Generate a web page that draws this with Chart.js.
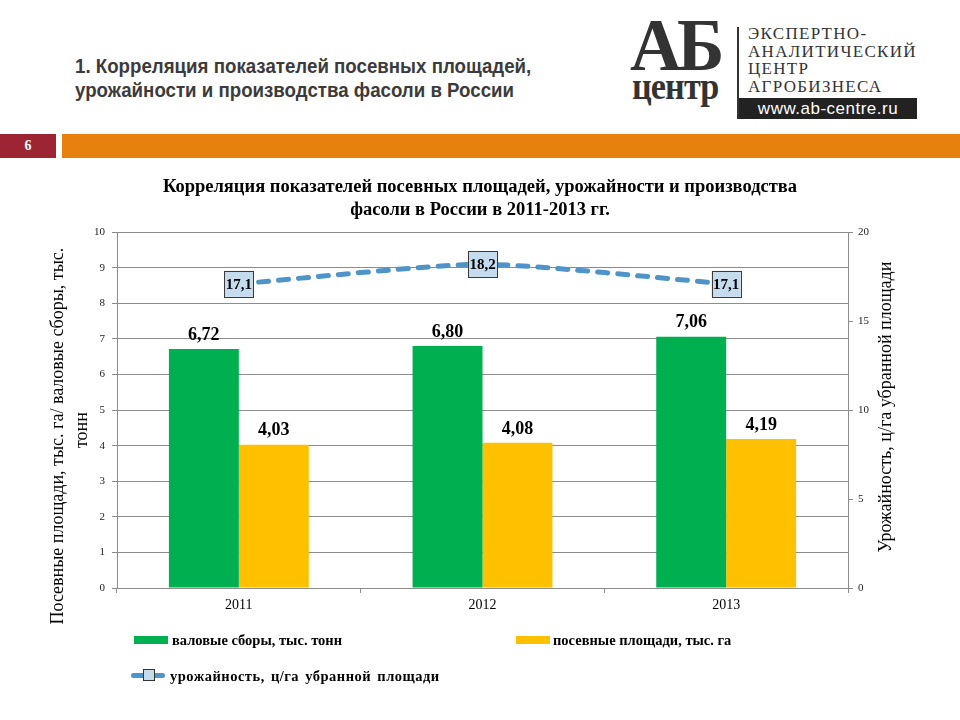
<!DOCTYPE html>
<html lang="ru">
<head>
<meta charset="utf-8">
<title>Фасоль в России</title>
<script src="https://cdn.jsdelivr.net/npm/chart.js@4/dist/chart.umd.min.js"></script>
<style>
    body { margin: 0; width: 960px; height: 720px; background: #fff; position: relative; overflow: hidden; font-family: "Liberation Serif", serif; }
    .head-title { position: absolute; left: 75px; top: 54px; font-family: "Liberation Sans Narrow", "Liberation Sans", Arial, sans-serif; font-weight: bold; font-size: 21px; line-height: 24px; color: #3b3b3b; transform: scaleX(0.89); transform-origin: left top; white-space: nowrap; }
    .logo-ab { position: absolute; left: 630px; top: 8px; font: bold 74px/74px "Liberation Serif", serif; color: #333; letter-spacing: -5px; transform: scaleX(0.97); transform-origin: left top; }
    .logo-centr { position: absolute; left: 632px; top: 67px; font: bold 38px/38px "Liberation Serif", serif; color: #333; letter-spacing: -1px; transform: scaleX(0.9); transform-origin: left top; }
    .logo-bar { position: absolute; left: 737px; top: 27px; width: 2px; height: 92px; background: #333; }
    .logo-text { position: absolute; left: 748px; top: 25px; font: 17px/17.5px "Liberation Serif", serif; color: #333; letter-spacing: 1.3px; }
    .logo-url { position: absolute; left: 739px; top: 98px; width: 178px; height: 21px; background: #222; color: #fff; font: 17px/21px "Liberation Sans Narrow", "Liberation Sans", sans-serif; text-align: center; letter-spacing: 0.5px; }
    .page-num { position: absolute; left: 0; top: 134px; width: 56px; height: 24px; background: #9d2533; color: #fff; font: bold 14px/24px "Liberation Serif", serif; text-align: center; }
    .orange { position: absolute; left: 62px; top: 134px; right: 0; height: 24px; background: #e8800e; }
    #chartWrap { position: absolute; left: 0; top: 170px; width: 960px; height: 550px; }
    .legend-item { position: absolute; font: bold 14.5px/16px "Liberation Serif", serif; color: #000; white-space: nowrap; }
    .sw { position: absolute; }
</style>
</head>
<body>
<div class="head-title">1. Корреляция показателей посевных площадей,<br>урожайности и производства фасоли в России</div>
<div class="logo-ab">АБ</div>
<div class="logo-centr">центр</div>
<div class="logo-bar"></div>
<div class="logo-text">ЭКСПЕРТНО-<br>АНАЛИТИЧЕСКИЙ<br>ЦЕНТР<br>АГРОБИЗНЕСА</div>
<div class="logo-url">www.ab-centre.ru</div>
<div class="page-num">6</div>
<div class="orange"></div>

<div id="chartWrap"><canvas id="chart" width="960" height="550"></canvas></div>

<div class="sw" style="left:134px; top:636px; width:34px; height:8px; background:#00b050;"></div>
<div class="legend-item" style="left:172px; top:632px;">валовые сборы, тыс. тонн</div>
<div class="sw" style="left:516px; top:636px; width:34px; height:8px; background:#ffc000;"></div>
<div class="legend-item" style="left:553px; top:632px;">посевные площади, тыс. га</div>
<div class="sw" style="left:131px; top:673px; width:34px; height:5px; border-radius:3px; background:#4f94c8;"></div>
<div class="sw" style="left:143px; top:669px; width:10px; height:10px; background:#c5dcef; border:1px solid #333;"></div>
<div class="legend-item" style="left:170px; top:668px; letter-spacing:0.5px; word-spacing:2px;">урожайность, ц/га убранной площади</div>

<script>
// Данные графика
const years = ['2011', '2012', '2013'];
const grossHarvest = [6.72, 6.80, 7.06];   // валовые сборы, тыс. тонн
const sownArea = [4.03, 4.08, 4.19];       // посевные площади, тыс. га
const yieldValues = [17.1, 18.2, 17.1];    // урожайность, ц/га

const GREEN = '#00b050';
const YELLOW = '#ffc000';
const BLUE = '#4f94c8';
const GRID = '#8c8c8c';

function fmt(v, digits) {
    return v.toFixed(digits).replace('.', ',');
}

// Подписи значений над столбцами и в рамках на линии
const valueLabels = {
    id: 'valueLabels',
    afterDatasetsDraw(chart) {
        const ctx = chart.ctx;
        ctx.save();
        chart.data.datasets.forEach((ds, i) => {
            const meta = chart.getDatasetMeta(i);
            meta.data.forEach((el, j) => {
                const v = ds.data[j];
                if (ds.type === 'line') {
                    const text = fmt(v, 1);
                    ctx.font = 'bold 15px "Liberation Serif"';
                    const w = ctx.measureText(text).width + 3;
                    const h = 26;
                    ctx.fillStyle = '#c5dcef';
                    ctx.fillRect(el.x - w / 2, el.y - h / 2, w, h);
                    ctx.strokeStyle = '#3a3a3a';
                    ctx.lineWidth = 1;
                    ctx.strokeRect(Math.round(el.x - w / 2) + 0.5, Math.round(el.y - h / 2) + 0.5, Math.round(w), h);
                    ctx.fillStyle = '#000';
                    ctx.textAlign = 'center';
                    ctx.textBaseline = 'middle';
                    ctx.fillText(text, el.x, el.y + 1);
                } else {
                    ctx.font = 'bold 18px "Liberation Serif"';
                    ctx.fillStyle = '#000';
                    ctx.textAlign = 'center';
                    ctx.textBaseline = 'middle';
                    ctx.fillText(fmt(v, 2), el.x, el.y - 14);
                }
            });
        });
        ctx.restore();
    }
};

// Подписи осей (обе повернуты снизу вверх, как в исходнике)
const axisTitles = {
    id: 'axisTitles',
    afterDraw(chart) {
        const ctx = chart.ctx;
        const area = chart.chartArea;
        const midY = (area.top + area.bottom) / 2;
        ctx.save();
        ctx.font = '18px "Liberation Serif"';
        ctx.fillStyle = '#000';
        ctx.textAlign = 'center';
        ctx.textBaseline = 'middle';

        ctx.save();
        ctx.translate(chart.scales.y.left + 58, midY + 26);
        ctx.rotate(-Math.PI / 2);
        ctx.fillText('Посевные площади, тыс. га/ валовые сборы, тыс.', 0, 0);
        ctx.restore();

        ctx.save();
        ctx.translate(chart.scales.y.left + 82, midY + 20);
        ctx.rotate(-Math.PI / 2);
        ctx.fillText('тонн', 0, 0);
        ctx.restore();

        ctx.save();
        ctx.translate(chart.scales.y1.left + 38, midY - 3);
        ctx.rotate(-Math.PI / 2);
        ctx.fillText('Урожайность, ц/га убранной площади', 0, 0);
        ctx.restore();

        ctx.restore();
    }
};

new Chart(document.getElementById('chart'), {
    type: 'bar',
    data: {
        labels: years,
        datasets: [
            {
                type: 'line',
                label: 'урожайность, ц/га убранной площади',
                data: yieldValues,
                yAxisID: 'y1',
                borderColor: BLUE,
                borderWidth: 5,
                borderDash: [10, 10],
                borderCapStyle: 'round',
                tension: 0.2,
                pointRadius: 0,
                order: 0
            },
            {
                label: 'валовые сборы, тыс. тонн',
                data: grossHarvest,
                backgroundColor: GREEN,
                categoryPercentage: 0.574,
                barPercentage: 1.0,
                order: 1
            },
            {
                label: 'посевные площади, тыс. га',
                data: sownArea,
                backgroundColor: YELLOW,
                categoryPercentage: 0.574,
                barPercentage: 1.0,
                order: 1
            }
        ]
    },
    options: {
        responsive: false,
        animation: false,
        layout: {
            padding: { left: 0, right: 0, top: 0, bottom: 102 }
        },
        plugins: {
            legend: { display: false },
            tooltip: { enabled: false },
            title: {
                display: true,
                text: ['Корреляция показателей посевных площадей, урожайности и производства',
                       'фасоли в России в 2011-2013 гг.'],
                font: { family: '"Liberation Serif"', size: 18.5, weight: 'bold', lineHeight: 1.25 },
                color: '#000',
                padding: { top: 6, bottom: 10 }
            }
        },
        scales: {
            x: {
                grid: { drawOnChartArea: false, drawTicks: true, tickLength: 5, color: GRID },
                border: { color: GRID },
                ticks: { font: { family: '"Liberation Serif"', size: 14 }, color: '#000', padding: 4 },
                afterFit(scale) { scale.height = 30; }
            },
            y: {
                position: 'left',
                min: 0,
                max: 10,
                ticks: { stepSize: 1, font: { family: '"Liberation Serif"', size: 11 }, color: '#222', padding: 7 },
                grid: { color: GRID, tickLength: 5 },
                border: { color: GRID },
                afterFit(scale) { scale.width = 117; }
            },
            y1: {
                position: 'right',
                min: 0,
                max: 20,
                ticks: { stepSize: 5, font: { family: '"Liberation Serif"', size: 11 }, color: '#222', padding: 5 },
                grid: { drawOnChartArea: false, color: GRID, tickLength: 5 },
                border: { color: GRID },
                afterFit(scale) { scale.width = 112; }
            }
        }
    },
    plugins: [valueLabels, axisTitles]
});
</script>
</body>
</html>
